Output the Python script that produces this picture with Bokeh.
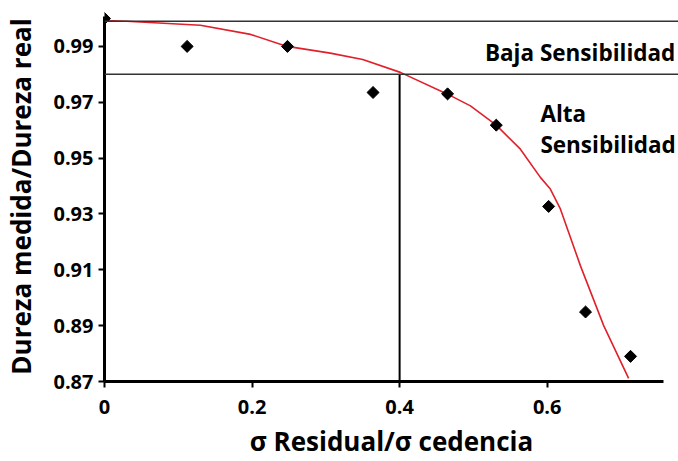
import math
from bokeh.plotting import figure
from bokeh.models import Range1d, FixedTicker, Span, Label
from bokeh.embed import file_html
from bokeh.resources import INLINE

# Data
pts_x = [0.0, 0.112, 0.248, 0.364, 0.465, 0.531, 0.602, 0.652, 0.713]
pts_y = [1.0, 0.990, 0.990, 0.9735, 0.973, 0.9618, 0.9327, 0.8949, 0.879]

curve_x = [0.0, 0.03, 0.13, 0.198, 0.2476, 0.306, 0.35, 0.401, 0.465, 0.496, 0.531,
           0.5637, 0.5908, 0.6043, 0.6179, 0.645, 0.6766, 0.7104]
curve_y = [0.9993, 0.9990, 0.9976, 0.9943, 0.990, 0.9876, 0.9853, 0.9807, 0.9729, 0.9687, 0.9618,
           0.9532, 0.9431, 0.9389, 0.9318, 0.9115, 0.890, 0.8711]

x_ticks = [0, 0.2, 0.4, 0.6]
x_tick_labels = ["0", "0.2", "0.4", "0.6"]
y_ticks = [0.87, 0.89, 0.91, 0.93, 0.95, 0.97, 0.99]
y_tick_labels = ["0.87", "0.89", "0.91", "0.93", "0.95", "0.97", "0.99"]

x_title = "σ Residual/σ cedencia"
y_title = "Dureza medida/Dureza real"

low_sens_upper = 0.999
sens_threshold = 0.98
stress_threshold = 0.4

FONT = "Open Sans"

p = figure(width=678, height=461, output_backend="svg", toolbar_location=None,
           x_range=Range1d(0, 0.778), y_range=Range1d(0.87, 1.0025),
           min_border_left=104, min_border_right=0, min_border_top=11, min_border_bottom=79)
p.outline_line_color = None
p.xgrid.visible = False
p.ygrid.visible = False
p.background_fill_color = "white"
p.border_fill_color = "white"

for ax in (p.xaxis[0], p.yaxis[0]):
    ax.axis_line_width = 3
    ax.axis_line_color = "black"
    ax.major_tick_line_width = 2
    ax.major_tick_line_color = "black"
    ax.major_tick_out = 6
    ax.major_tick_in = 0
    ax.minor_tick_line_color = None
    ax.major_label_text_font = FONT
    ax.major_label_text_font_style = "bold"
    ax.major_label_text_font_size = "20px"
    ax.major_label_text_color = "black"
    ax.axis_label_text_font = FONT
    ax.axis_label_text_font_style = "bold"
    ax.axis_label_text_font_size = "26px"
    ax.axis_label_text_color = "black"

p.xaxis.ticker = FixedTicker(ticks=x_ticks)
p.xaxis.major_label_overrides = dict(zip(x_ticks, x_tick_labels))
p.xaxis.bounds = (0, 0.757)
p.xaxis.axis_label = x_title
p.xaxis.major_label_standoff = 12
p.xaxis.axis_label_standoff = 6
p.xaxis.axis_label_text_line_height = 0.9

p.yaxis.ticker = FixedTicker(ticks=y_ticks)
p.yaxis.major_label_overrides = dict(zip(y_ticks, y_tick_labels))
p.yaxis.bounds = (0.87, 1.0007)
p.yaxis.axis_label = y_title
p.yaxis.major_label_standoff = 5
p.yaxis.axis_label_standoff = 11

# Threshold lines
p.add_layout(Span(location=low_sens_upper, dimension="width", line_color="#333333", line_width=1.5))
p.add_layout(Span(location=sens_threshold, dimension="width", line_color="#333333", line_width=1.5))
p.segment(x0=[stress_threshold], y0=[0.87], x1=[stress_threshold], y1=[sens_threshold],
          line_color="black", line_width=2)

# Fitted curve
p.line(curve_x, curve_y, line_color="#e0202a", line_width=1.6)

# Data points
p.scatter(pts_x, pts_y, marker="square", angle=math.pi / 4, size=8.5,
          fill_color="black", line_color="black")

# Annotations (data coordinates)
lab = dict(text_font=FONT, text_font_style="bold", text_font_size="22.5px",
           text_color="black", text_baseline="alphabetic")
p.add_layout(Label(x=0.7737, y=0.9879, text="Baja Sensibilidad", text_align="right", **lab))
p.add_layout(Label(x=0.5908, y=0.9661, text="Alta", text_align="left", **lab))
p.add_layout(Label(x=0.5908, y=0.9550, text="Sensibilidad", text_align="left", **lab))

open("out.html", "w").write(file_html(p, INLINE))
